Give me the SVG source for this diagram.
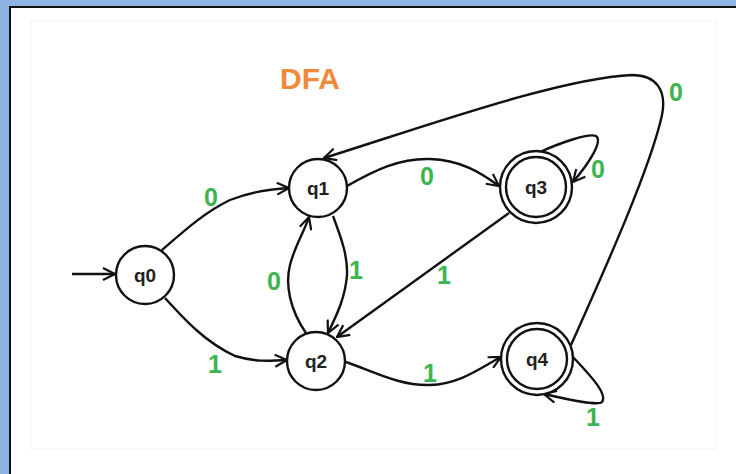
<svg xmlns="http://www.w3.org/2000/svg" width="736" height="474" viewBox="0 0 736 474">
<style>
.node circle{fill:#fff;stroke:#111;stroke-width:2.4}
.node text{font-family:"Liberation Sans",Arial,sans-serif;font-weight:bold;font-size:19px;fill:#222;text-anchor:middle}
.edge{fill:none;stroke:#111;stroke-width:2.4;marker-end:url(#arr)}
.lbl{font-family:"Liberation Sans",Arial,sans-serif;font-weight:bold;font-size:25px;fill:#3cb44f;text-anchor:middle}
</style>
<defs>
<marker id="arr" viewBox="0 0 14 14" refX="13" refY="7" markerWidth="14" markerHeight="14" markerUnits="userSpaceOnUse" orient="auto">
<path d="M1,1 L13,7 L1,13" fill="none" stroke="#111" stroke-width="2.2"/>
</marker>
</defs>
<rect x="0" y="0" width="736" height="474" fill="#8db4e2"/>
<rect x="10" y="7" width="726" height="467" fill="#fff"/>
<path d="M10,474 L10,7 L736,7" fill="none" stroke="#111" stroke-width="2"/>
<rect x="31" y="21" width="685" height="428" fill="none" stroke="#f6f6f6" stroke-width="1.5"/>
<text x="310" y="89" font-family="'Liberation Sans',Arial,sans-serif" font-weight="bold" font-size="30" fill="#f08a3c" text-anchor="middle">DFA</text>
<g id="connectors">
<path class="edge" d="M72,274 L115,274"/>
<path class="edge" d="M162,250 C185,230 205,212 230,200 C250,192 270,189 289,188"/>
<path class="edge" d="M165,298 C185,320 205,342 235,356 C255,362 270,361 287,360"/>
<path class="edge" d="M306,333 C290,310 285,285 290,265 C295,245 305,230 309,217"/>
<path class="edge" d="M333,216 C340,235 348,255 347,275 C345,300 335,318 328,333"/>
<path class="edge" d="M347,186 C375,170 400,158 430,159 C460,160 480,172 499,186"/>
<path class="edge" d="M509,213 L337,337"/>
<path class="edge" d="M346,362 C375,372 400,386 430,385 C460,384 480,368 501,357"/>
<path class="edge" d="M571,345 C600,280 650,170 662,115 C667,90 656,75 632,75 C560,78 420,128 324,158"/>
<path class="edge" d="M540,152 C560,143 588,133 596,136 C603,141 590,162 573,182"/>
<path class="edge" d="M572,356 C590,375 608,394 602,402 C598,406 570,400 544,394"/>
</g>
<g id="q0" class="node"><circle cx="145" cy="275" r="29"/><text x="145" y="282">q0</text></g>
<g id="q1" class="node"><circle cx="318" cy="188" r="29"/><text x="318" y="195">q1</text></g>
<g id="q2" class="node"><circle cx="316" cy="361" r="29"/><text x="316" y="368">q2</text></g>
<g id="q3" class="node"><circle cx="536" cy="187" r="36"/><circle cx="536" cy="187" r="30"/><text x="536" y="194">q3</text></g>
<g id="q4" class="node"><circle cx="537" cy="359" r="36"/><circle cx="537" cy="359" r="30"/><text x="537" y="366">q4</text></g>
<g id="labels">
<text class="lbl" x="211" y="206">0</text>
<text class="lbl" x="274" y="290">0</text>
<text class="lbl" x="356" y="279">1</text>
<text class="lbl" x="215" y="373">1</text>
<text class="lbl" x="427" y="185">0</text>
<text class="lbl" x="598" y="178">0</text>
<text class="lbl" x="676" y="101">0</text>
<text class="lbl" x="444" y="284">1</text>
<text class="lbl" x="430" y="382">1</text>
<text class="lbl" x="593" y="426">1</text>
</g>
</svg>
